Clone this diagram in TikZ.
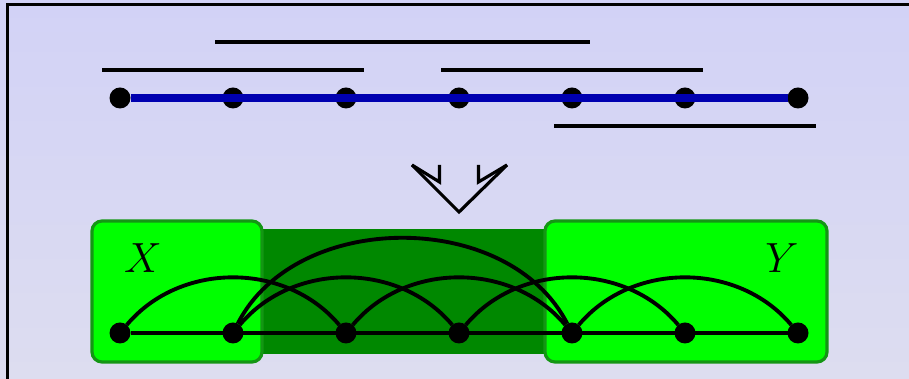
\documentclass[tikz,border=0pt]{standalone}
\usepackage{amsmath,amssymb}
\usepackage{xcolor}
\usetikzlibrary{arrows,positioning}

\definecolor{bgtop}{RGB}{210,210,246}
\definecolor{bgbottom}{RGB}{221,221,240}
\definecolor{pathblue}{RGB}{0,0,176}
\definecolor{bagfill}{RGB}{0,255,0}
\definecolor{bagdraw}{RGB}{20,150,20}
\definecolor{sepfill}{RGB}{0,136,0}

\begin{document}
\begin{tikzpicture}[node distance=0.92cm,>=stealth',bend angle=50]
  \tikzstyle{vertex}=[circle,fill=black,inner sep=0pt,outer sep=0pt,minimum size=2.1mm]
  \tikzstyle{interval}=[line width=1.2pt]
  \tikzstyle{edge}=[line width=1.1pt]
  \tikzstyle{bag}=[rounded corners=1mm,line width=0.9pt,draw=bagdraw,fill=bagfill]

  % Frame
  \useasboundingbox (0,0) rectangle (9.09,-3.79);
  \clip (0,0) rectangle (9.09,-3.79);
  \shade[top color=bgtop,bottom color=bgbottom] (0,0) rectangle (9.09,-3.79);
  \draw[line width=0.6pt] (0.075,-0.045) rectangle (9.5,-4.2);

  % Path and its intervals
  \node [vertex] (a0) at (1.2,-0.98) {};
  \foreach \i [count=\j from 1] in {0,...,5}
    \node [vertex, right=of a\i] (a\j) {};
  \draw [pathblue, line width=2pt] (a0) -- (a6);

  \draw [interval] ([xshift=-1.8mm,yshift=5.6mm]a1.center) -- ([xshift=1.8mm,yshift=5.6mm]a4.center);
  \draw [interval] ([xshift=-1.8mm,yshift=2.8mm]a0.center) -- ([xshift=1.8mm,yshift=2.8mm]a2.center);
  \draw [interval] ([xshift=-1.8mm,yshift=2.8mm]a3.center) -- ([xshift=1.8mm,yshift=2.8mm]a5.center);
  \draw [interval] ([xshift=-1.8mm,yshift=-2.8mm]a4.center) -- ([xshift=1.8mm,yshift=-2.8mm]a6.center);

  % Implies
  \draw [line width=0.9pt] (4.12,-1.65) -- (4.59,-2.12) -- (5.07,-1.65);
  \draw [line width=0.9pt] (4.12,-1.65) -- (4.395,-1.82) -- (4.395,-1.65);
  \draw [line width=0.9pt] (5.07,-1.65) -- (4.785,-1.82) -- (4.785,-1.65);

  % Bags
  \fill [sepfill] (2.4,-2.29) rectangle (5.7,-3.54);
  \draw [bag] (0.92,-2.21) rectangle (2.62,-3.62);
  \draw [bag] (5.45,-2.21) rectangle (8.27,-3.62);
  \node (X) at (1.43,-2.58) {\large $X$};
  \node (Y) at (7.82,-2.58) {\large $Y$};

  % Graph
  \node [vertex] (b0) at (1.2,-3.33) {};
  \foreach \i [count=\j from 1] in {0,...,5}
    \node [vertex, right=of b\i] (b\j) {};
  \draw [edge] (b0) -- (b6);
  \foreach \i/\j in {0/2,1/3,2/4,3/5,4/6}
    \draw [edge] (b\i) to [bend left] (b\j);
  \draw [edge] (b1) to [bend left=63] (b4);
\end{tikzpicture}
\end{document}
